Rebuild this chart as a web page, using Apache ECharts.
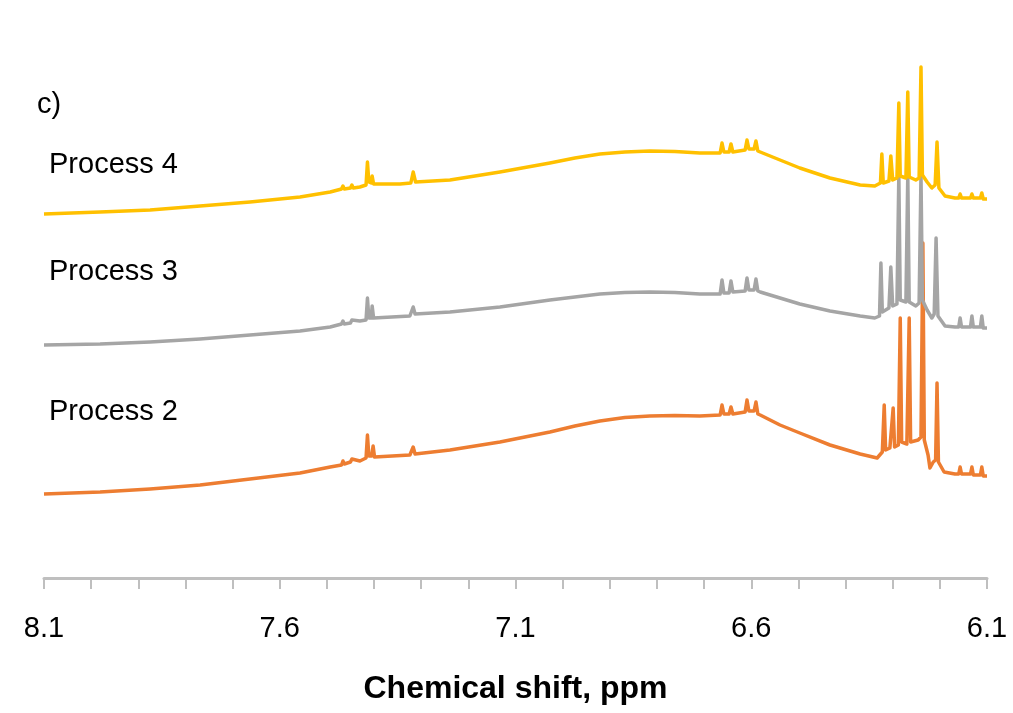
<!DOCTYPE html>
<html>
<head>
<meta charset="utf-8">
<title>Chemical shift spectra</title>
<script src="https://cdn.jsdelivr.net/npm/echarts@6/dist/echarts.min.js"></script>
<style>
  html, body { margin: 0; padding: 0; background: #ffffff; }
  #chart { width: 1013px; height: 713px; }
</style>
</head>
<body>
<div id="chart"></div>
<script>
// 1H NMR traces, [chemical shift (ppm), stacked intensity (a.u.)]
const seriesNames = ['Process 2', 'Process 3', 'Process 4'];
const seriesColors = ['#ED7D31', '#A5A5A5', '#FFC000'];

const process2 = [
  [8.100,84],[7.981,86],[7.875,89],[7.769,93],[7.663,99],[7.557,105],[7.493,111],[7.469,113],[7.466,117],[7.463,114],
  [7.450,116],[7.447,119],[7.444,117],[7.430,117],[7.417,120],[7.414,143],[7.411,122],[7.405,122],[7.402,132],[7.399,121],
  [7.324,123],[7.320,123],[7.317,131],[7.313,124],[7.239,128],[7.133,136],[7.027,146],[6.974,152],[6.921,157],[6.868,160.5],
  [6.815,162],[6.762,162.5],[6.709,162],
  [6.666,163],[6.662,173],[6.658,164],[6.647,164],[6.643,171],[6.639,164],[6.613,166],[6.609,178],[6.605,167],[6.594,167],
  [6.590,176],[6.586,164],[6.581,163],[6.539,153],[6.497,145],[6.433,133],[6.369,124],[6.333,120],[6.322,126],[6.318,173],
  [6.315,128],[6.306,130],[6.299,170],[6.296,131],[6.288,133],[6.284,260],[6.281,136],[6.270,134],[6.265,260],[6.262,136],
  [6.246,138],[6.240,141],[6.236,335],[6.233,138],[6.225,123],[6.221,110],[6.214,116],[6.209,118],[6.206,195],[6.203,116],
  [6.191,106],[6.168,104],[6.160,104],[6.157,111],[6.154,104],[6.135,104],[6.132,111],[6.129,103],[6.114,103],[6.111,111],
  [6.108,102],[6.100,102]
];

const process3 = [
  [8.100,233],[7.981,234],[7.875,236],[7.769,239],[7.663,243],[7.557,247],[7.493,251],[7.469,254],[7.466,257],[7.463,254],
  [7.450,255],[7.447,258],[7.444,256],[7.430,257],[7.417,258],[7.414,280],[7.411,260],[7.406,260],[7.404,272],[7.401,260],
  [7.324,262],[7.320,262],[7.317,271],[7.313,264],[7.239,266],[7.133,271],[7.027,278],[6.974,281],[6.921,284],[6.868,285.5],
  [6.815,286],[6.762,285.5],[6.709,284],
  [6.666,284],[6.662,298],[6.658,285],[6.647,285],[6.643,297],[6.639,286],[6.613,287],[6.609,300],[6.605,288],[6.594,288],
  [6.590,299],[6.586,287],[6.581,286],[6.539,280],[6.497,274],[6.433,267],[6.369,262],[6.338,260],[6.328,262],[6.325,315],
  [6.322,266],[6.308,270],[6.304,311],[6.300,272],[6.291,274],[6.287,403],[6.284,278],[6.272,276],[6.268,403],[6.265,276],
  [6.251,272],[6.244,275],[6.240,403],[6.237,278],[6.227,268],[6.217,260],[6.212,264],[6.208,340],[6.204,262],[6.189,252],
  [6.168,251],[6.160,251],[6.157,260],[6.154,251],[6.135,251],[6.132,262],[6.129,251],[6.114,251],[6.111,262],[6.108,250],
  [6.100,250]
];

const process4 = [
  [8.100,364],[7.981,366],[7.875,368],[7.769,372],[7.663,376],[7.557,381],[7.493,386],[7.469,389],[7.466,392],[7.463,389],
  [7.450,390],[7.447,393],[7.444,390],[7.430,391],[7.417,393],[7.414,416],[7.411,396],[7.406,395],[7.404,402],[7.401,394],
  [7.345,394],[7.322,395],[7.317,406],[7.312,396],[7.239,398],[7.133,406],[7.027,415],[6.974,420],[6.921,424],[6.868,426],
  [6.815,427],[6.762,426.5],[6.709,425],
  [6.666,425],[6.662,435],[6.658,426],[6.647,426],[6.643,434],[6.639,426],[6.613,428],[6.609,438],[6.605,429],[6.594,429],
  [6.590,437],[6.586,427],[6.581,426],[6.539,418],[6.497,410],[6.433,400],[6.369,393],[6.338,392],[6.326,395],[6.323,424],
  [6.320,395],[6.308,397],[6.304,422],[6.300,398],[6.291,400],[6.287,475],[6.284,402],[6.272,400],[6.268,486],[6.265,401],
  [6.251,398],[6.244,400],[6.240,511],[6.237,403],[6.227,396],[6.217,390],[6.210,393],[6.206,436],[6.202,390],[6.189,382],
  [6.168,380],[6.160,380],[6.157,384],[6.154,380],[6.135,380],[6.132,384],[6.129,380],[6.114,380],[6.111,385],[6.108,379],
  [6.100,379]
];

const spectra = [process2, process3, process4];
const shiftRange = [6.1, 8.1];
const labelStep = 0.5;

const chart = echarts.init(document.getElementById('chart'), null, { renderer: 'canvas' });

const axisGray = '#BFBFBF';
const textFont = '"Liberation Sans", Arial, sans-serif';

chart.setOption({
  animation: false,
  backgroundColor: '#ffffff',
  grid: { left: 44, right: 26, top: 50, bottom: 135, containLabel: false },
  xAxis: {
    type: 'value',
    inverse: true,
    min: shiftRange[0],
    max: shiftRange[1],
    interval: labelStep,
    name: 'Chemical shift, ppm',
    nameLocation: 'middle',
    nameGap: 95,
    nameTextStyle: { fontFamily: textFont, fontSize: 32, fontWeight: 'bold', color: '#000' },
    axisLine: { show: true, lineStyle: { color: axisGray, width: 3 } },
    axisTick: { show: true, length: 11, lineStyle: { color: axisGray, width: 2 } },
    minorTick: { show: true, splitNumber: 5, length: 11, lineStyle: { color: axisGray, width: 2 } },
    splitLine: { show: false },
    axisLabel: {
      margin: 36,
      fontFamily: textFont,
      fontSize: 29,
      color: '#000',
      formatter: v => v.toFixed(1)
    }
  },
  yAxis: {
    type: 'value',
    min: 0,
    max: 528,
    show: false
  },
  series: spectra.map((d, i) => ({
    name: seriesNames[i],
    type: 'line',
    data: d,
    showSymbol: false,
    symbol: 'none',
    smooth: false,
    lineStyle: { color: seriesColors[i], width: 3.5, join: 'round' },
    itemStyle: { color: seriesColors[i] },
    z: 2 + i
  })),
  graphic: [
    { type: 'text', left: 37, top: 90, style: { text: 'c)', font: '29px ' + textFont, fill: '#000' } },
    { type: 'text', left: 49, top: 150, style: { text: seriesNames[2], font: '29px ' + textFont, fill: '#000' } },
    { type: 'text', left: 49, top: 257, style: { text: seriesNames[1], font: '29px ' + textFont, fill: '#000' } },
    { type: 'text', left: 49, top: 397, style: { text: seriesNames[0], font: '29px ' + textFont, fill: '#000' } }
  ]
});
</script>
</body>
</html>
